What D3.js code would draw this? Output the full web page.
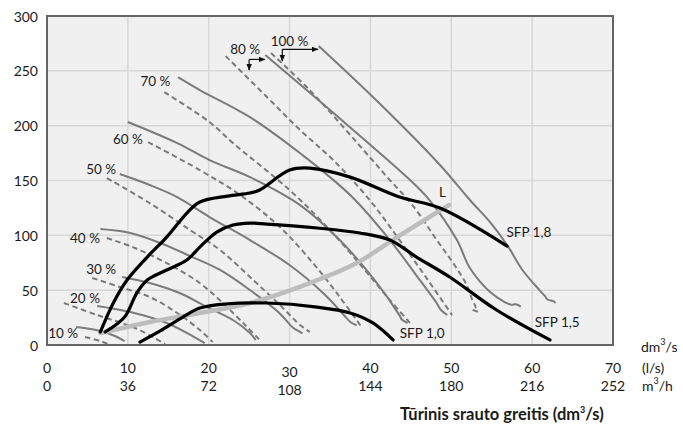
<!DOCTYPE html>
<html>
<head>
<meta charset="utf-8">
<script src="https://cdnjs.cloudflare.com/ajax/libs/d3/7.8.5/d3.min.js"></script>
<style>
	body { margin: 0; background: #fff; }
	text { font-family: Lato, "Open Sans", sans-serif; fill: #1a1a1a; }
</style>
</head>
<body>
<div id="chart"></div>
<script>
// axis ticks
const xTicks = [0, 10, 20, 30, 40, 50, 60, 70];
const xTicksM3h = [0, 36, 72, 108, 144, 180, 216, 252];
const yTicks = [0, 50, 100, 150, 200, 250, 300];

// fan curves, [flow dm3/s, pressure Pa]
const fan10Solid = [[3.6, 16.4], [6.6, 12.8], [8.4, 8.2], [9.6, 3.6]];
const fan10Dashed = [[4.7, 7.3], [6.6, 3.6], [7.5, 0.9]];
const fan20Solid = [[6.2, 35.6], [10.3, 30.1], [14.8, 20.1], [18.0, 8.2], [19.5, 1.8]];
const fan20Dashed = [[2.1, 38.3], [6.2, 27.3], [10.6, 16.4], [13.3, 6.4], [14.6, 0.9]];
const fan30Solid = [[9.3, 62.0], [12.7, 56.5], [16.4, 47.4], [19.8, 34.6], [23.0, 22.8], [25.1, 10.9], [25.8, 4.6]];
const fan30Dashed = [[5.6, 61.1], [9.0, 52.9], [12.7, 43.8], [16.1, 29.2], [18.9, 13.7], [20.5, 2.7]];
const fan40Solid = [[6.6, 105.7], [10.3, 102.1], [14.0, 93.0], [17.7, 81.1], [21.4, 68.4], [25.1, 50.1], [28.6, 30.1], [30.4, 16.0], [30.9, 13.5], [31.6, 10.5]];
const fan40Dashed = [[7.4, 97.5], [10.6, 89.3], [14.8, 74.7], [18.9, 56.5], [22.0, 36.5], [24.5, 18.2], [26.3, 4.6]];
const fan50Solid = [[9.0, 155.9], [12.7, 145.9], [16.1, 134.9], [20.1, 116.7], [25.1, 95.7], [30.0, 72.9], [34.4, 45.6], [37.0, 25.0], [37.6, 20.5], [38.3, 18.0]];
const fan50Dashed = [[7.4, 152.2], [12.7, 129.4], [17.7, 104.8], [21.4, 86.6], [25.5, 59.3], [28.8, 36.5], [31.3, 18.2], [32.5, 11.9]];
const fan60Solid = [[10.0, 203.3], [16.1, 184.1], [20.1, 168.6], [25.1, 153.1], [31.3, 127.6], [36.2, 95.7], [40.5, 59.3], [43.6, 27.0], [43.9, 23.0], [44.6, 20.1]];
const fan60Dashed = [[12.5, 185.0], [18.9, 159.5], [23.9, 136.7], [28.8, 107.6], [33.1, 72.9], [36.2, 43.8], [38.9, 16.4]];
const fan70Solid = [[16.2, 244.3], [18.9, 232.5], [25.1, 207.8], [31.6, 173.2], [37.5, 136.7], [42.4, 95.7], [46.1, 59.3], [48.3, 37.0], [48.6, 33.0], [49.5, 27.3]];
const fan70Dashed = [[14.5, 230.6], [20.1, 203.3], [23.0, 184.1], [30.0, 141.3], [35.0, 104.8], [39.3, 68.4], [42.4, 41.0], [44.9, 20.1]];
const fan80Solid = [[27.0, 264.4], [35.0, 214.2], [44.9, 150.4], [47.3, 132.2], [50.7, 95.7], [52.3, 70.2], [54.8, 48.3], [56.6, 39.2], [57.4, 36.8], [58.0, 37.2], [58.6, 35.0]];
const fan80Dashed = [[22.1, 263.4], [27.2, 226.1], [31.3, 196.0], [35.4, 168.6], [39.9, 132.2], [43.6, 95.7], [47.1, 59.3], [50.1, 27.3]];
const fan100Solid = [[33.6, 272.6], [41.2, 219.7], [48.6, 164.1], [52.3, 132.2], [54.8, 112.1], [56.9, 91.2], [58.8, 68.4], [60.9, 50.1], [61.6, 44.5], [61.9, 41.5], [62.6, 40.0], [62.9, 38.4]];
const fan100Dashed = [[27.7, 266.2], [32.5, 232.4], [39.9, 171.4], [42.4, 150.4], [45.2, 127.6], [48.2, 95.7], [50.4, 72.9], [51.9, 54.7], [52.6, 41.0], [53.0, 34.5], [52.6, 32.5], [53.4, 30.1]];

// SFP curves and system curve L
const sfp10 = [[11.5, 2.7], [14.0, 12.8], [16.8, 25.5], [18.9, 33.7], [22.0, 37.4], [27.2, 38.3], [33.4, 34.6], [37.5, 29.2], [40.3, 20.1], [42.8, 4.6]];
const sfp15 = [[7.2, 11.9], [9.6, 25.5], [11.1, 47.4], [12.4, 59.3], [14.8, 68.4], [17.3, 77.5], [18.9, 89.3], [21.0, 103.0], [23.0, 109.4], [25.1, 111.2], [27.2, 110.3], [33.4, 106.7], [38.7, 102.1], [42.4, 95.7], [45.7, 80.2], [49.8, 62.0], [55.6, 31.9], [62.2, 4.6]];
const sfp18 = [[6.6, 11.9], [8.2, 38.3], [9.9, 59.3], [12.4, 80.2], [14.8, 98.4], [17.3, 120.3], [18.9, 130.4], [22.3, 135.8], [25.1, 138.6], [26.3, 141.3], [30.0, 159.5], [32.5, 161.3], [37.5, 153.1], [43.6, 134.9], [48.6, 124.9], [56.9, 90.2]];
const lineL = [[6.6, 10.9], [12.7, 21.0], [18.9, 29.2], [25.1, 38.3], [32.5, 56.5], [38.3, 74.8], [43.3, 98.4], [49.7, 127.6]];

// curve labels [text, flow, pressure]
const pctLabels = [
	['10 %', 2.0, 10.9], ['20 %', 4.7, 42.8], ['30 %', 6.7, 69.3], ['40 %', 4.7, 97.5],
	['50 %', 6.7, 160.4], ['60 %', 10.0, 187.8], ['70 %', 13.4, 240.7], ['80 %', 24.5, 269.8], ['100 %', 30.0, 277.1]
];
const curveLabels = [['L', 48.9, 139.5], ['SFP 1,8', 59.6, 103.0], ['SFP 1,5', 63.1, 21.0], ['SFP 1,0', 46.4, 10.9]];
// pointer arrows [cornerX, cornerY, downToY, rightToX]
const pointers = [[25.0, 260.4, 250.7, 26.95], [29.1, 269.6, 258.9, 33.5]];

const W = 683, H = 430;
const mLeft = 47, mTop = 16, pw = 566, ph = 329;

const xScale = d3.scaleLinear().domain([0, 70]).range([mLeft, mLeft + pw]);
const yScale = d3.scaleLinear().domain([0, 300]).range([mTop + ph, mTop]);

const svg = d3.select('#chart').append('svg')
	.attr('width', W)
	.attr('height', H);

const defs = svg.append('defs');
defs.append('marker')
	.attr('id', 'arr')
	.attr('viewBox', '0 0 10 10')
	.attr('refX', 9).attr('refY', 5)
	.attr('markerWidth', 7).attr('markerHeight', 7)
	.attr('markerUnits', 'userSpaceOnUse')
	.attr('orient', 'auto')
	.append('path').attr('d', 'M0,1 L10,5 L0,9 Z').attr('fill', '#111');
defs.append('clipPath').attr('id', 'clip')
	.append('rect').attr('x', mLeft).attr('y', mTop).attr('width', pw).attr('height', ph);

svg.append('rect')
	.attr('x', mLeft).attr('y', mTop).attr('width', pw).attr('height', ph)
	.attr('fill', '#f0f0f0');

// grid
svg.append('g')
	.selectAll('line')
	.data(xTicks.slice(1, -1))
	.enter().append('line')
	.attr('x1', d => xScale(d)).attr('x2', d => xScale(d))
	.attr('y1', mTop).attr('y2', mTop + ph)
	.attr('stroke', '#d8d8d8').attr('stroke-width', 1.5);
svg.append('g')
	.selectAll('line')
	.data(yTicks.slice(1, -1))
	.enter().append('line')
	.attr('x1', mLeft).attr('x2', mLeft + pw)
	.attr('y1', d => yScale(d)).attr('y2', d => yScale(d))
	.attr('stroke', '#d8d8d8').attr('stroke-width', 1.5);

const line = d3.line()
	.x(d => xScale(d[0]))
	.y(d => yScale(d[1]))
	.curve(d3.curveCatmullRom.alpha(0.5));

const fans = [
	[fan10Solid, false], [fan10Dashed, true], [fan20Solid, false], [fan20Dashed, true],
	[fan30Solid, false], [fan30Dashed, true], [fan40Solid, false], [fan40Dashed, true],
	[fan50Solid, false], [fan50Dashed, true], [fan60Solid, false], [fan60Dashed, true],
	[fan70Solid, false], [fan70Dashed, true], [fan80Solid, false], [fan80Dashed, true],
	[fan100Solid, false], [fan100Dashed, true]
];

const plot = svg.append('g').attr('clip-path', 'url(#clip)');

plot.selectAll('path.fan')
	.data(fans)
	.enter().append('path')
	.attr('class', 'fan')
	.attr('d', d => line(d[0]))
	.attr('fill', 'none')
	.attr('stroke', '#7b7b7b')
	.attr('stroke-width', 2)
	.attr('stroke-dasharray', d => d[1] ? '5.5,3.5' : null);

plot.append('path')
	.attr('d', line(lineL))
	.attr('fill', 'none')
	.attr('stroke', '#bdbdbd')
	.attr('stroke-width', 4.5)
	.attr('stroke-linecap', 'round');

plot.selectAll('path.sfp')
	.data([sfp10, sfp15, sfp18])
	.enter().append('path')
	.attr('class', 'sfp')
	.attr('d', d => line(d))
	.attr('fill', 'none')
	.attr('stroke', '#000')
	.attr('stroke-width', 3.2)
	.attr('stroke-linecap', 'round');

// border
svg.append('rect')
	.attr('x', mLeft).attr('y', mTop).attr('width', pw).attr('height', ph)
	.attr('fill', 'none')
	.attr('stroke', '#666').attr('stroke-width', 2);

// labels on the curves
svg.selectAll('text.pct')
	.data(pctLabels.concat(curveLabels))
	.enter().append('text')
	.attr('class', 'pct')
	.attr('x', d => xScale(d[1]))
	.attr('y', d => yScale(d[2]))
	.attr('text-anchor', 'middle')
	.attr('dominant-baseline', 'central')
	.style('font-size', '13.5px')
	.text(d => d[0]);

pointers.forEach(p => {
	svg.append('line')
		.attr('x1', xScale(p[0])).attr('y1', yScale(p[1]))
		.attr('x2', xScale(p[0])).attr('y2', yScale(p[2]))
		.attr('stroke', '#111').attr('stroke-width', 1.2)
		.attr('marker-end', 'url(#arr)');
	svg.append('line')
		.attr('x1', xScale(p[0])).attr('y1', yScale(p[1]))
		.attr('x2', xScale(p[3])).attr('y2', yScale(p[1]))
		.attr('stroke', '#111').attr('stroke-width', 1.2)
		.attr('marker-end', 'url(#arr)');
});

// y axis labels
svg.selectAll('text.ytick')
	.data(yTicks)
	.enter().append('text')
	.attr('class', 'ytick')
	.attr('x', 38)
	.attr('y', d => yScale(d))
	.attr('text-anchor', 'end')
	.attr('dominant-baseline', 'central')
	.style('font-size', '14px')
	.text(d => d);

// two rows of x labels, the 30 / 108 column sits a bit lower
svg.selectAll('text.xtick')
	.data(xTicks)
	.enter().append('text')
	.attr('class', 'xtick')
	.attr('x', d => xScale(d))
	.attr('y', (d, i) => i === 3 ? 371 : 367)
	.attr('text-anchor', 'middle')
	.attr('dominant-baseline', 'central')
	.style('font-size', '14px')
	.text(d => d);
svg.selectAll('text.xtick2')
	.data(xTicksM3h)
	.enter().append('text')
	.attr('class', 'xtick2')
	.attr('x', (d, i) => xScale(xTicks[i]))
	.attr('y', (d, i) => i === 3 ? 389 : 385)
	.attr('text-anchor', 'middle')
	.attr('dominant-baseline', 'central')
	.style('font-size', '14px')
	.text(d => d);

// units
function unit(x, y, a, sup, b, size) {
	const t = svg.append('text').attr('x', x).attr('y', y)
		.attr('dominant-baseline', 'central')
		.style('font-size', size);
	t.append('tspan').text(a);
	if (sup) {
		t.append('tspan').attr('dy', -5).style('font-size', '9px').text(sup);
		t.append('tspan').attr('dy', 5).text(b);
	}
	return t;
}
unit(641, 346, 'dm', '3', '/s', '14px');
unit(642, 367, '(l/s)', null, null, '14px');
unit(642, 385, 'm', '3', '/h', '14px');
unit(400, 414, 'Tūrinis srauto greitis (dm', '3', '/s)', '16.5px').style('font-weight', 'bold');
</script>
</body>
</html>
